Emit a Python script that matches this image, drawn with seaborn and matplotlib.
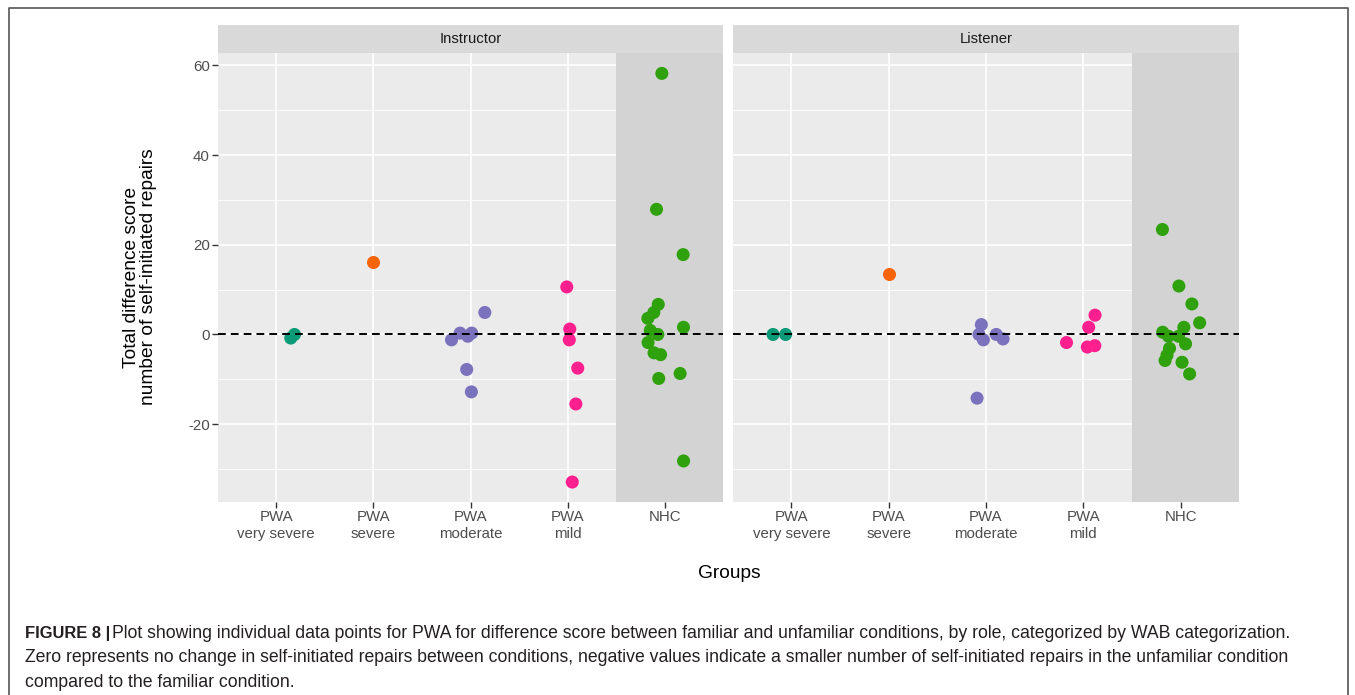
import numpy as np
import pandas as pd
import seaborn as sns
import matplotlib.pyplot as plt
from matplotlib.ticker import MultipleLocator
from matplotlib.lines import Line2D
from matplotlib.patches import Rectangle

plt.rcParams['font.family'] = ['Liberation Sans', 'DejaVu Sans']
plt.rcParams['axes.unicode_minus'] = False

# Groups and labels
groups = ["very severe", "severe", "moderate", "mild", "NHC"]
tick_labels = ["PWA\nvery severe", "PWA\nsevere", "PWA\nmoderate", "PWA\nmild", "NHC"]
group_colors = ["#0b9a78", "#f86408", "#7a72bc", "#ff1f8e", "#2fa10c"]
roles = ["Instructor", "Listener"]

# Difference scores - Instructor
instr_very_severe = [-0.8, 0.0]
instr_severe = [16.2]
instr_moderate = [4.9, 0.3, 0.3, -1.2, -0.4, -7.8, -12.8]
instr_mild = [10.6, 1.2, -1.2, -7.5, -15.5, -32.9]
instr_nhc = [58.2, 27.9, 17.8, 6.7, 4.9, 3.6, 1.6, 0.9, 0.0, -1.8, -4.1, -4.5, -8.7, -9.8, -28.2]

# Listener
list_very_severe = [0.0, 0.0]
list_severe = [13.5]
list_moderate = [2.2, 0.0, -1.0, 0.0, -1.2, -14.2]
list_mild = [4.3, 1.6, -1.8, -2.8, -2.5]
list_nhc = [23.4, 10.8, 6.8, 2.6, 1.6, 0.5, -0.4, -0.4, -2.1, -3.1, -4.6, -6.2, -5.8, -8.8]

caption_bold = "FIGURE 8 |"
caption_lines = [
    "Plot showing individual data points for PWA for difference score between familiar and unfamiliar conditions, by role, categorized by WAB categorization.",
    "Zero represents no change in self-initiated repairs between conditions, negative values indicate a smaller number of self-initiated repairs in the unfamiliar condition",
    "compared to the familiar condition.",
]

# build long table
rows = []
instr = [instr_very_severe, instr_severe, instr_moderate, instr_mild, instr_nhc]
lstn = [list_very_severe, list_severe, list_moderate, list_mild, list_nhc]
for role, series in zip(roles, [instr, lstn]):
    for g, vals in zip(groups, series):
        for v in vals:
            rows.append({"role": role, "group": g, "score": v})
df = pd.DataFrame(rows)
palette = dict(zip(groups, group_colors))

W, H = 1355, 695
def px_box(x0, y0, x1, y1):
    return [x0 / W, 1 - y1 / H, (x1 - x0) / W, (y1 - y0) / H]

fig = plt.figure(figsize=(W / 100, H / 100), dpi=100)
ax1 = fig.add_axes(px_box(218, 53, 723, 502))
ax2 = fig.add_axes(px_box(733, 53, 1239, 502), sharey=ax1)

np.random.seed(8)
for ax, role in zip([ax1, ax2], roles):
    sub = df[df["role"] == role]
    ax.set_facecolor("#ebebeb")
    sns.stripplot(data=sub, x="group", y="score", hue="group", order=groups,
                  hue_order=groups, palette=palette, jitter=0.2, size=9.4,
                  linewidth=0, legend=False, ax=ax, zorder=3)
    ax.set_xlim(-0.6, 4.6)
    ax.set_ylim(-37.35, 62.75)
    ax.axvspan(3.5, 4.6, color="#d3d3d3", lw=0, zorder=1)
    ax.axhline(0, color="black", ls=(0, (4, 2.6)), lw=1.4, zorder=4)

    ax.set_axisbelow(True)
    ax.yaxis.set_major_locator(MultipleLocator(20))
    ax.yaxis.set_minor_locator(MultipleLocator(10))
    ax.grid(True, which="major", color="white", lw=1.2)
    ax.grid(True, which="minor", axis="y", color="white", lw=0.6)
    for s in ax.spines.values():
        s.set_visible(False)

    ax.set_xticks(range(len(groups)))
    ax.set_xticklabels(tick_labels)
    for lbl in ax.get_xticklabels():
        lbl.set_linespacing(1.2)
    ax.tick_params(which="major", length=4, width=1, color="#333333",
                   labelcolor="#4d4d4d", labelsize=10.8, pad=2)
    ax.tick_params(which="minor", length=0)
    ax.set_xlabel("")
    ax.set_ylabel("")

    # facet strip
    ax.add_patch(Rectangle((0, 1), 1, 28 / 449, transform=ax.transAxes,
                           clip_on=False, color="#d9d9d9", lw=0))
    ax.text(0.5, 1 + 14 / 449, role, transform=ax.transAxes, ha="center",
            va="center", fontsize=10.7, color="#1a1a1a")

ax2.tick_params(axis="y", left=False, labelleft=False)

fig.text(140 / W, 1 - 277 / H, "Total difference score\nnumber of self-initiated repairs",
         rotation=90, ha="center", va="center", fontsize=13.8, linespacing=1.05)
fig.text(729 / W, 1 - 573 / H, "Groups", ha="center", va="center", fontsize=13.8)

# caption
cap_color = "#231f20"
cap_size = 12.7
t = fig.text(25 / W, 1 - 638 / H, caption_bold, fontsize=cap_size - 0.8, weight="bold",
             color=cap_color, va="baseline")
fig.canvas.draw()
bb = t.get_window_extent()
fig.text((bb.x1 + 2) / W, 1 - 638 / H, caption_lines[0], fontsize=cap_size,
         color=cap_color, va="baseline")
fig.text(25 / W, 1 - 662 / H, caption_lines[1], fontsize=cap_size, color=cap_color, va="baseline")
fig.text(25 / W, 1 - 687 / H, caption_lines[2], fontsize=cap_size, color=cap_color, va="baseline")

# frame around figure
fig.add_artist(Line2D([9 / W, 9 / W, 1348 / W, 1348 / W], [0, 1 - 8 / H, 1 - 8 / H, 0],
                      transform=fig.transFigure, color="#555555", lw=1.2))

fig.savefig("out.png", dpi=100)
